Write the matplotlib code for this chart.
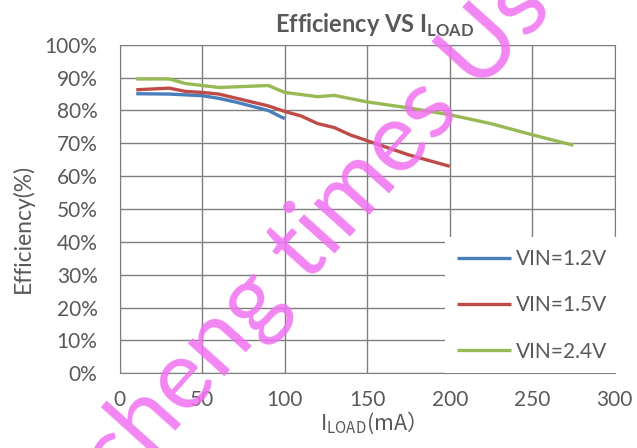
import matplotlib
matplotlib.use('Agg')
import matplotlib.pyplot as plt

# data (load in mA, efficiency in %)
load_12 = [10, 30, 50, 60, 70, 80, 90, 100]
eff_12 = [85.1, 85.0, 84.5, 83.7, 82.6, 81.3, 80.0, 77.5]

load_15 = [10, 30, 40, 50, 60, 90, 100, 110, 120, 130, 140, 150, 175, 200]
eff_15 = [86.3, 86.8, 85.8, 85.5, 85.0, 81.4, 79.7, 78.3, 76.0, 74.8, 72.5, 70.8, 66.5, 63.0]

load_24 = [10, 30, 40, 60, 90, 100, 120, 130, 150, 175, 200, 225, 250, 275]
eff_24 = [89.6, 89.6, 88.2, 87.0, 87.6, 85.5, 84.2, 84.6, 82.6, 80.8, 78.7, 76.0, 72.6, 69.4]

labels = ['VIN=1.2V', 'VIN=1.5V', 'VIN=2.4V']
colors = ['#4a7ebb', '#be4b48', '#98b954']
xticks = [0, 50, 100, 150, 200, 250, 300]
yticks = list(range(0, 101, 10))

plt.rcParams['font.family'] = ['Lato', 'DejaVu Sans']
grey = '#595959'

fig = plt.figure(figsize=(6.37, 4.48), dpi=100)
ax = fig.add_axes([0.188, 0.167, 0.777, 0.733])

for x, y, lab, c in zip([load_12, load_15, load_24], [eff_12, eff_15, eff_24], labels, colors):
    ax.plot(x, y, color=c, lw=2.4, label=lab, solid_capstyle='butt')

ax.set_xlim(0, 300)
ax.set_ylim(0, 100)
ax.set_xticks(xticks)
ax.set_yticks(yticks)
ax.set_yticklabels([f'{v}%' for v in yticks])
ax.grid(True, color='#7f7f7f', lw=1.0)
ax.set_axisbelow(True)
for s in ax.spines.values():
    s.set_color('#7f7f7f')
ax.tick_params(length=0, labelsize=15, colors=grey)
ax.tick_params(axis='y', pad=16)
ax.tick_params(axis='x', pad=12)

ax.set_title(r'Efficiency VS I$_{\mathregular{LOAD}}$', fontsize=17, fontweight='bold',
             color=grey, pad=9, x=0.515)
ax.set_ylabel('Efficiency(%)', fontsize=16.5, color=grey)
ax.yaxis.set_label_coords(-0.174, 0.44)
ax.set_xlabel(r'I$_{\mathregular{LOAD}}$(mA）', fontsize=15.5, color=grey,
              family='Noto Sans CJK SC', labelpad=0)

leg = ax.legend(loc='lower right', bbox_to_anchor=(1.008, 0.0), frameon=True,
                fontsize=15, handlelength=2.6, labelspacing=1.27, handletextpad=0.25,
                borderpad=0.55, borderaxespad=0, fancybox=False)
leg.get_frame().set_edgecolor('none')
leg.get_frame().set_facecolor('white')
leg.get_frame().set_alpha(1)
for t in leg.get_texts():
    t.set_color(grey)

# watermark
fig.text(0.525, 0.52, 'cheng times Use', fontsize=70, color='#f070f0', alpha=0.85,
         rotation=48, ha='center', va='center', family='Lato')

fig.savefig('out.png', dpi=100)
